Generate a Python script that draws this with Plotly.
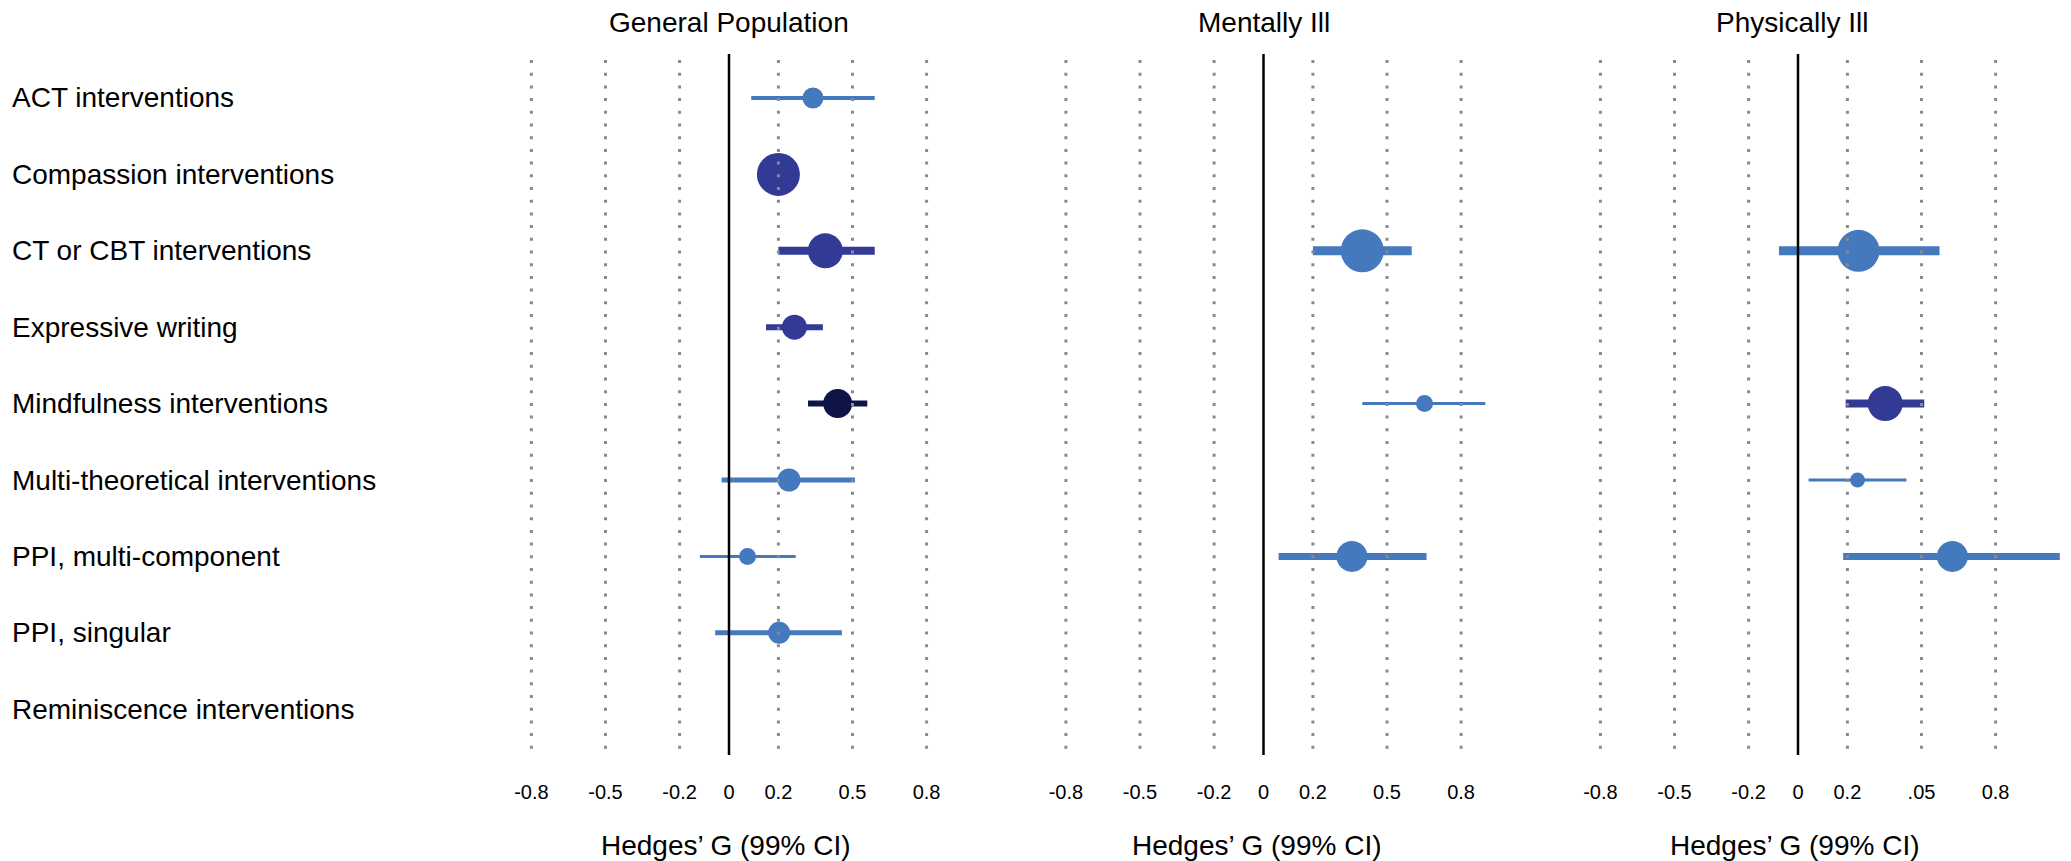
import plotly.graph_objects as go

W, H = 2071, 861

categories = ["ACT interventions", "Compassion interventions", "CT or CBT interventions",
              "Expressive writing", "Mindfulness interventions", "Multi-theoretical interventions",
              "PPI, multi-component", "PPI, singular", "Reminiscence interventions"]

panel_titles = ["General Population", "Mentally Ill", "Physically Ill"]
axis_title = "Hedges\u2019 G (99% CI)"

tick_values = [-0.8, -0.5, -0.2, 0, 0.2, 0.5, 0.8]
tick_text_general = ["-0.8", "-0.5", "-0.2", "0", "0.2", "0.5", "0.8"]
tick_text_mental = ["-0.8", "-0.5", "-0.2", "0", "0.2", "0.5", "0.8"]
tick_text_physical = ["-0.8", "-0.5", "-0.2", "0", "0.2", ".05", "0.8"]

# General population
gen_g = [0.34, 0.20, 0.39, 0.265, 0.44, 0.243, 0.075, 0.203, None]
gen_lo = [0.09, 0.14, 0.20, 0.15, 0.32, -0.03, -0.118, -0.056, None]
gen_hi = [0.59, 0.26, 0.59, 0.38, 0.56, 0.51, 0.27, 0.457, None]
gen_weight = [21, 43, 35, 25, 29, 23, 17, 22, None]
gen_ci_w = [4, 8, 8, 6, 6, 5, 3, 5, None]
gen_group = ["light", "indigo", "indigo", "indigo", "navy", "light", "light", "light", None]

# Mentally ill
men_g = [None, None, 0.40, None, 0.652, None, 0.358, None, None]
men_lo = [None, None, 0.20, None, 0.40, None, 0.061, None, None]
men_hi = [None, None, 0.60, None, 0.898, None, 0.66, None, None]
men_weight = [None, None, 43, None, 17, None, 31, None, None]
men_ci_w = [None, None, 9, None, 3, None, 7, None, None]
men_group = [None, None, "light", None, "light", None, "light", None, None]

# Physically ill
phy_g = [None, None, 0.245, None, 0.353, 0.241, 0.625, None, None]
phy_lo = [None, None, -0.077, None, 0.193, 0.043, 0.183, None, None]
phy_hi = [None, None, 0.573, None, 0.511, 0.439, 1.06, None, None]
phy_weight = [None, None, 42, None, 35, 15, 31, None, None]
phy_ci_w = [None, None, 9, None, 8, 3, 7, None, None]
phy_group = [None, None, "light", None, "indigo", "light", "light", None, None]

colors = {"light": "#4579be", "indigo": "#333a96", "navy": "#0f1446"}

panels = [
    (gen_g, gen_lo, gen_hi, gen_weight, gen_ci_w, gen_group, tick_text_general),
    (men_g, men_lo, men_hi, men_weight, men_ci_w, men_group, tick_text_mental),
    (phy_g, phy_lo, phy_hi, phy_weight, phy_ci_w, phy_group, tick_text_physical),
]

FONT = "Liberation Sans, Arial, Helvetica, sans-serif"
x_range = [-0.9, 1.1]
zero_px = [729, 1263.5, 1798]
px_per_unit = 247
title_x = [0, 0, -0.025]
axis_title_x = [-0.012, -0.026, -0.013]

# vertical layout (pixels from top)
grid_top, grid_bottom, zero_top = 60, 755, 54
row0, row_step = 98, 76.4
y_range = [8 + (grid_bottom - (row0 + 8 * row_step)) / row_step, -(row0 - grid_top) / row_step]

fig = go.Figure()
shapes = []
annotations = []

for p, (g, lo, hi, wt, ciw, grp, ttext) in enumerate(panels):
    xa = "x" if p == 0 else f"x{p+1}"
    ya = "y" if p == 0 else f"y{p+1}"
    # CI lines
    for i in range(len(categories)):
        if g[i] is None:
            continue
        fig.add_trace(go.Scatter(x=[lo[i], hi[i]], y=[i, i], mode="lines",
                                 line=dict(color=colors[grp[i]], width=ciw[i]),
                                 xaxis=xa, yaxis=ya, showlegend=False, hoverinfo="skip"))
    idx = [i for i in range(len(categories)) if g[i] is not None]
    fig.add_trace(go.Scatter(x=[g[i] for i in idx], y=idx, mode="markers",
                             marker=dict(size=[wt[i] for i in idx],
                                         color=[colors[grp[i]] for i in idx],
                                         line=dict(width=0), opacity=1),
                             xaxis=xa, yaxis=ya, showlegend=False))
    # gridlines (drawn above, dotted) and zero line
    for tv in tick_values:
        if tv == 0:
            shapes.append(dict(type="line", xref=xa, yref="paper", x0=0, x1=0,
                               y0=1 - grid_bottom / H, y1=1 - zero_top / H,
                               line=dict(color="#000000", width=2.5), layer="above"))
        else:
            shapes.append(dict(type="line", xref=xa, yref="paper", x0=tv, x1=tv,
                               y0=1 - grid_top / H, y1=1 - grid_bottom / H,
                               line=dict(color="#8a8a8a", width=3, dash="3px,9.7px"),
                               layer="above"))
    annotations.append(dict(text=panel_titles[p], xref=xa, yref="paper", x=title_x[p],
                            y=1 - 22 / H, xanchor="center", yanchor="middle",
                            showarrow=False, font=dict(size=28, color="#000", family=FONT)))
    annotations.append(dict(text=axis_title, xref=xa, yref="paper", x=axis_title_x[p],
                            y=1 - 845 / H, xanchor="center", yanchor="middle",
                            showarrow=False, font=dict(size=28, color="#000", family=FONT)))
    left = zero_px[p] + x_range[0] * px_per_unit
    right = zero_px[p] + x_range[1] * px_per_unit
    axis_def = dict(domain=[left / W, right / W], range=x_range, showgrid=False,
                    zeroline=False, showline=False, ticks="", tickvals=tick_values,
                    ticktext=ttext, tickfont=dict(size=20, color="#000", family=FONT),
                    anchor=ya, ticklabelstandoff=23)
    yaxis_def = dict(domain=[1 - grid_bottom / H, 1 - grid_top / H], range=y_range,
                     showgrid=False, zeroline=False, showline=False, showticklabels=False,
                     ticks="", anchor=xa)
    if p == 0:
        fig.update_layout(xaxis=axis_def, yaxis=yaxis_def)
    else:
        fig.update_layout(**{f"xaxis{p+1}": axis_def, f"yaxis{p+1}": yaxis_def})

for i, c in enumerate(categories):
    annotations.append(dict(text=c, xref="paper", yref="y", x=10 / W, y=i,
                            xanchor="left", yanchor="middle", showarrow=False,
                            font=dict(size=28, color="#000", family=FONT)))

fig.update_layout(width=W, height=H, margin=dict(l=0, r=0, t=0, b=0),
                  paper_bgcolor="white", plot_bgcolor="white",
                  shapes=shapes, annotations=annotations, showlegend=False)

fig.write_html("out.html")
